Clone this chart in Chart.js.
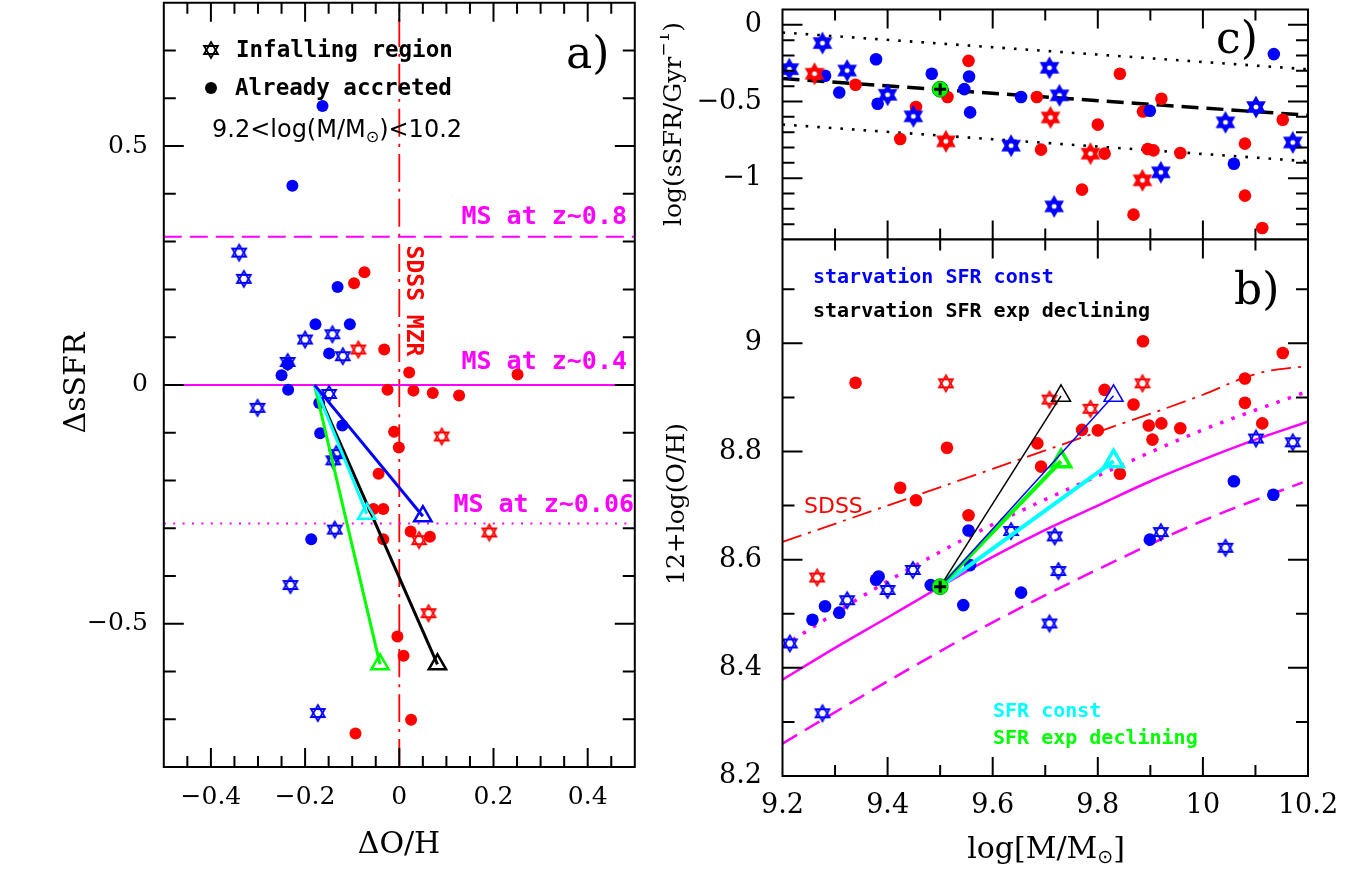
<!DOCTYPE html>
<html>
<head>
<meta charset="utf-8">
<script src="https://cdn.jsdelivr.net/npm/chart.js@4.4.1/dist/chart.umd.min.js"></script>
<style>
  html, body { margin: 0; padding: 0; background: #fff; }
  #wrap { position: relative; width: 1370px; height: 876px; }
  canvas { position: absolute; }
</style>
</head>
<body>
<div id="wrap">
  <canvas id="pa" width="660" height="876" style="left:0;top:0"></canvas>
  <canvas id="pc" width="700" height="240" style="left:660px;top:0"></canvas>
  <canvas id="pb" width="700" height="646" style="left:660px;top:230px"></canvas>
</div>
<script>
// ---- tick labels ----
const XA_TICKS = [-0.4, -0.2, 0, 0.2, 0.4];
const YA_TICKS = [-0.5, 0, 0.5];
const XB_TICKS = [9.2, 9.4, 9.6, 9.8, 10, 10.2];
const YB_TICKS = [8.2, 8.4, 8.6, 8.8, 9];
const YC_TICKS = [-1, -0.5, 0];

// ---- panel a: dsSFR vs dO/H ----
const aStarBlue = [[-0.340,0.277],[-0.330,0.222],[-0.142,0.106],[-0.200,0.095],[-0.120,0.060],[-0.237,0.048],[-0.149,-0.019],[-0.301,-0.048],[-0.134,-0.145],[-0.140,-0.158],[-0.137,-0.303],[-0.231,-0.419],[-0.173,-0.687]];
const aStarRed = [[-0.087,0.074],[0.090,-0.108],[0.042,-0.325],[0.191,-0.309],[0.062,-0.478]];
const aDotBlue = [[-0.163,0.584],[-0.227,0.417],[-0.131,0.205],[-0.178,0.127],[-0.105,0.127],[-0.149,0.066],[-0.237,0.043],[-0.250,0.020],[-0.236,-0.010],[-0.170,-0.038],[-0.168,-0.101],[-0.121,-0.085],[-0.187,-0.323]];
const aDotRed = [[-0.074,0.236],[-0.096,0.213],[-0.032,0.074],[0.021,0.026],[0.251,0.022],[-0.025,-0.010],[0.030,-0.012],[0.071,-0.017],[0.127,-0.022],[-0.011,-0.098],[-0.001,-0.131],[-0.044,-0.186],[-0.055,-0.260],[-0.034,-0.260],[-0.034,-0.323],[0.024,-0.307],[0.065,-0.318],[-0.004,-0.527],[0.009,-0.567],[0.025,-0.701],[-0.093,-0.730]];
const aMsZ08 = 0.31, aMsZ04 = 0, aMsZ006 = -0.29, aMzrX = 0;
const aTrackStart = [-0.18, 0];
const aTrackBlue = [0.05, -0.275];
const aTrackCyan = [-0.069, -0.27];
const aTrackGreen = [-0.041, -0.585];
const aTrackBlack = [0.081, -0.585];

// ---- panel c: log sSFR vs mass ----
const cStarBlue = [[9.213,-0.289],[9.276,-0.119],[9.323,-0.298],[9.400,-0.456],[9.449,-0.597],[9.708,-0.280],[9.727,-0.460],[9.635,-0.788],[9.717,-1.184],[9.920,-0.962],[10.043,-0.636],[10.101,-0.536],[10.171,-0.767]];
const cStarRed = [[9.261,-0.319],[9.511,-0.760],[9.710,-0.604],[9.786,-0.840],[9.885,-1.014]];
const cDotBlue = [[9.281,-0.332],[9.308,-0.441],[9.378,-0.224],[9.381,-0.515],[9.484,-0.319],[9.546,-0.419],[9.555,-0.337],[9.557,-0.571],[9.654,-0.471],[9.899,-0.560],[10.059,-0.906],[10.135,-0.191]];
const cDotRed = [[9.339,-0.391],[9.424,-0.745],[9.454,-0.536],[9.514,-0.471],[9.554,-0.235],[9.684,-0.471],[9.692,-0.814],[9.770,-1.075],[9.800,-0.651],[9.813,-0.840],[9.842,-0.319],[9.868,-1.238],[9.886,-0.565],[9.895,-0.810],[9.906,-0.819],[9.921,-0.482],[9.957,-0.836],[10.080,-0.775],[10.080,-1.114],[10.113,-1.325],[10.152,-0.619]];
const cFitX = [9.2, 10.2];
const cFitY = [-0.35, -0.59];
const cUpperY = [-0.05, -0.29];
const cLowerY = [-0.65, -0.89];
const cRefPoint = [9.5, -0.42];

// ---- panel b: 12+log(O/H) vs mass ----
const bStarBlue = [[9.214,8.445],[9.276,8.316],[9.323,8.525],[9.400,8.544],[9.448,8.581],[9.635,8.653],[9.708,8.482],[9.718,8.643],[9.725,8.579],[9.920,8.651],[10.043,8.622],[10.101,8.824],[10.171,8.817]];
const bStarRed = [[9.266,8.567],[9.511,8.926],[9.708,8.896],[9.786,8.879],[9.885,8.926]];
const bDotBlue = [[9.257,8.489],[9.281,8.514],[9.308,8.502],[9.378,8.563],[9.383,8.569],[9.482,8.553],[9.544,8.516],[9.554,8.654],[9.557,8.590],[9.654,8.539],[9.899,8.637],[10.059,8.745],[10.134,8.720]];
const bDotRed = [[9.339,8.927],[9.424,8.733],[9.454,8.710],[9.513,8.807],[9.554,8.682],[9.685,8.815],[9.692,8.772],[9.770,8.840],[9.800,8.839],[9.813,8.914],[9.842,8.759],[9.868,8.887],[9.886,9.004],[9.897,8.848],[9.904,8.822],[9.921,8.852],[9.957,8.843],[10.080,8.935],[10.080,8.890],[10.113,8.852],[10.152,8.982]];
const bSdssX = [9.2, 9.4, 9.6, 9.8, 10.0, 10.08, 10.12, 10.2];
const bSdssY = [8.633, 8.700, 8.768, 8.836, 8.905, 8.937, 8.948, 8.958];
const bDotLineX = [9.2, 9.4, 9.6, 9.8, 10.0, 10.19];
const bDotLineY = [8.44, 8.56, 8.665, 8.755, 8.84, 8.908];
const bSolidX = [9.2, 9.3, 9.4, 9.5, 9.6, 9.7, 9.8, 9.9, 10.0, 10.1, 10.2];
const bSolidY = [8.378, 8.437, 8.493, 8.55, 8.605, 8.655, 8.70, 8.745, 8.785, 8.822, 8.855];
const bDashX = [9.2, 9.4, 9.6, 9.8, 10.0, 10.19];
const bDashY = [8.26, 8.375, 8.484, 8.582, 8.672, 8.743];
const bRefPoint = [9.5, 8.55];
const bTrackBlue = [9.83, 8.903];
const bTrackBlack = [9.73, 8.903];
const bTrackGreen = [9.73, 8.782];
const bTrackCyan = [9.83, 8.782];

const MAG = '#ff00ff', BLUE = '#0000ff', RED = '#ff0000', GREEN = '#00ff00', CYAN = '#00ffff', BLACK = '#000000';
const SERIF = '"DejaVu Serif", serif';
const MONO = '"DejaVu Sans Mono", monospace';
const SANS = '"DejaVu Sans", sans-serif';

const pts = arr => arr.map(([x, y]) => ({ x, y }));
const line = (xs, ys) => xs.map((x, i) => ({ x, y: ys[i] }));
const fmt = v => (v < 0 ? '\u2212' : '') + String(Math.abs(v));
function steps(lo, hi, st) {
  const out = [];
  for (let i = 0; lo + i * st <= hi + 1e-9; i++) out.push(+(lo + i * st).toFixed(4));
  return out;
}

// hexagram marker drawn once and used as a point style
function hexStar(color, r, lw) {
  const s = Math.ceil(2 * r + lw + 4);
  const c = document.createElement('canvas');
  c.width = s; c.height = s;
  const g = c.getContext('2d');
  g.strokeStyle = color; g.lineWidth = lw;
  [-90, 90].forEach(a0 => {
    g.beginPath();
    for (let k = 0; k < 3; k++) {
      const a = (a0 + 120 * k) * Math.PI / 180;
      const px = s / 2 + r * Math.cos(a), py = s / 2 + r * Math.sin(a);
      if (k) g.lineTo(px, py); else g.moveTo(px, py);
    }
    g.closePath();
    g.stroke();
  });
  return c;
}
const starBlueThin = hexStar(BLUE, 8, 1.8);
const starRedThin = hexStar(RED, 8, 1.8);
const starBlueThick = hexStar(BLUE, 8, 3.4);
const starRedThick = hexStar(RED, 8, 3.4);
const starBlack = hexStar(BLACK, 8, 1.8);

function dots(arr, color, r) {
  return { data: pts(arr), showLine: false, pointStyle: 'circle', pointRadius: r,
    pointBackgroundColor: color, pointBorderColor: color, pointBorderWidth: 0, order: 1 };
}
function stars(arr, img) {
  return { data: pts(arr), showLine: false, pointStyle: img, pointRadius: 8, order: 1 };
}
function curve(xs, ys, color, w, dash) {
  return { data: line(xs, ys), showLine: true, borderColor: color, borderWidth: w, borderDash: dash,
    pointRadius: 0, fill: false, order: 2, cubicInterpolationMode: 'monotone' };
}
function track(start, end, color, w, triR, triW) {
  return { data: pts([start, end]), showLine: true, borderColor: color, borderWidth: w,
    pointRadius: [0, triR], pointStyle: 'triangle', pointBorderColor: color, pointBorderWidth: triW,
    pointBackgroundColor: 'rgba(0,0,0,0)', order: 0 };
}
function refMarker(p) {
  return [
    { data: pts([p]), showLine: false, pointStyle: 'cross', pointRadius: 6, pointBorderColor: BLACK, pointBorderWidth: 3, order: -2 },
    { data: pts([p]), showLine: false, pointStyle: 'circle', pointRadius: 8, pointBackgroundColor: GREEN, pointBorderColor: '#00a000', pointBorderWidth: 1, order: -1 }
  ];
}

// text made of pieces (for sub/superscripts)
function rich(ctx, parts, x, y, rot, align) {
  ctx.save();
  ctx.translate(x, y);
  if (rot) ctx.rotate(rot);
  ctx.textBaseline = 'middle';
  ctx.textAlign = 'left';
  let w = 0;
  parts.forEach(p => { ctx.font = p.f; p.w = ctx.measureText(p.t).width; w += p.w; });
  let cx = align === 'left' ? 0 : -w / 2;
  parts.forEach(p => {
    ctx.font = p.f; ctx.fillStyle = p.c || BLACK;
    ctx.fillText(p.t, cx, p.dy || 0);
    cx += p.w;
  });
  ctx.restore();
}

// box with inward ticks on all four sides
function frame(o) {
  return {
    id: 'frame',
    afterDraw(chart) {
      const ctx = chart.ctx;
      const a = chart.chartArea;
      const sx = chart.scales.x, sy = chart.scales.y;
      ctx.save();
      ctx.setLineDash([]);
      ctx.strokeStyle = BLACK;
      ctx.lineWidth = 2;
      ctx.beginPath();
      for (const [vals, len] of [[o.xMinor, 11], [o.xMajor, 19]]) {
        for (const v of vals) {
          const p = sx.getPixelForValue(v);
          if (!(p >= a.left - 0.5 && p <= a.right + 0.5)) continue;
          ctx.moveTo(p, a.bottom); ctx.lineTo(p, a.bottom - len);
          ctx.moveTo(p, a.top); ctx.lineTo(p, a.top + len);
        }
      }
      for (const [vals, len] of [[o.yMinor, 12], [o.yMajor, 20]]) {
        for (const v of vals) {
          const p = sy.getPixelForValue(v);
          if (!(p >= a.top - 0.5 && p <= a.bottom + 0.5)) continue;
          ctx.moveTo(a.left, p); ctx.lineTo(a.left + len, p);
          ctx.moveTo(a.right, p); ctx.lineTo(a.right - len, p);
        }
      }
      ctx.rect(a.left, a.top, a.right - a.left, a.bottom - a.top);
      ctx.stroke();
      ctx.restore();
    }
  };
}

function axis(min, max, ticks, size, fit, pad, fontSize, show) {
  return {
    type: 'linear', min, max,
    grid: { display: false, drawTicks: false },
    border: { display: false },
    afterBuildTicks: s => { s.ticks = ticks.map(v => ({ value: v })); },
    afterFit: s => {
      if (fit === 'w') s.width = size; else s.height = size;
      s.paddingTop = 0; s.paddingBottom = 0; s.paddingLeft = 0; s.paddingRight = 0;
    },
    ticks: { display: show, padding: pad, color: BLACK, autoSkip: false, maxRotation: 0,
      font: { family: SERIF, size: fontSize }, callback: v => fmt(v) }
  };
}
function options(pad, x, y) {
  return {
    responsive: false, animation: false, events: [],
    layout: { padding: pad, autoPadding: false },
    plugins: { legend: { display: false }, tooltip: { enabled: false } },
    scales: { x, y }
  };
}

// ---------- panel a ----------
new Chart(document.getElementById('pa'), {
  type: 'scatter',
  data: {
    datasets: [
      track(aTrackStart, aTrackBlue, BLUE, 3, 10, 2.5),
      track(aTrackStart, aTrackCyan, CYAN, 3, 10, 2.5),
      track(aTrackStart, aTrackGreen, GREEN, 3, 10, 2.5),
      track(aTrackStart, aTrackBlack, BLACK, 3, 10, 2.5),
      stars(aStarBlue, starBlueThin),
      stars(aStarRed, starRedThin),
      dots(aDotBlue, BLUE, 6),
      dots(aDotRed, RED, 6),
      curve([-0.5, 0.5], [aMsZ04, aMsZ04], MAG, 2, []),
      curve([-0.5, 0.5], [aMsZ08, aMsZ08], MAG, 2, [18, 8]),
      curve([-0.5, 0.5], [aMsZ006, aMsZ006], MAG, 2, [2, 7.4]),
      curve([aMzrX, aMzrX], [-0.8, 0.8], RED, 1.8, [28, 7, 3, 7])
    ]
  },
  options: options({ left: 0, top: 2.8, right: 25.2, bottom: 0 },
    axis(-0.5, 0.5, XA_TICKS, 109, 'h', 15.5, 25, true),
    axis(-0.8, 0.8, YA_TICKS, 163.8, 'w', 16, 25, true)),
  plugins: [
    frame({ xMajor: XA_TICKS, xMinor: steps(-0.5, 0.5, 0.05), yMajor: YA_TICKS, yMinor: steps(-0.8, 0.8, 0.1) }),
    {
      id: 'notesA',
      afterDraw(chart) {
        const { ctx, scales: { x, y } } = chart;
        ctx.save();
        ctx.drawImage(starBlack, 211 - starBlack.width / 2, 50 - starBlack.height / 2);
        ctx.fillStyle = BLACK;
        ctx.beginPath(); ctx.arc(211, 88, 6, 0, 2 * Math.PI); ctx.fill();
        ctx.textBaseline = 'middle';
        ctx.font = 'bold 22.5px ' + MONO;
        ctx.fillText('Infalling region', 236, 51);
        ctx.fillText('Already accreted', 235, 89);
        rich(ctx, [{ t: '9.2<log(M/M', f: '24px ' + SANS }, { t: '\u2299', f: '16px ' + SANS, dy: 7 },
          { t: ')<10.2', f: '24px ' + SANS }], 212, 131, 0, 'left');
        ctx.font = '44px ' + SERIF;
        ctx.fillText('a)', 566, 57);
        ctx.fillStyle = MAG;
        ctx.textAlign = 'right';
        ctx.font = 'bold 25px ' + MONO;
        ctx.fillText('MS at z~0.8', 627, y.getPixelForValue(aMsZ08) - 19);
        ctx.fillText('MS at z~0.4', 627, y.getPixelForValue(aMsZ04) - 22);
        ctx.fillText('MS at z~0.06', 634, y.getPixelForValue(aMsZ006) - 18);
        ctx.save();
        ctx.translate(x.getPixelForValue(aMzrX) + 14, 301);
        ctx.rotate(Math.PI / 2);
        ctx.textAlign = 'center';
        ctx.fillStyle = RED;
        ctx.font = 'bold 23px ' + MONO;
        ctx.fillText('SDSS MZR', 0, 0);
        ctx.restore();
        rich(ctx, [{ t: '\u0394sSFR', f: '30px ' + SERIF }], 77, 383, -Math.PI / 2, 'center');
        rich(ctx, [{ t: '\u0394O/H', f: '30px ' + SERIF }], 399, 845, 0, 'center');
        ctx.restore();
      }
    }
  ]
});

// ---------- panel c ----------
new Chart(document.getElementById('pc'), {
  type: 'scatter',
  data: {
    datasets: [
      ...refMarker(cRefPoint),
      stars(cStarBlue, starBlueThick),
      stars(cStarRed, starRedThick),
      dots(cDotBlue, BLUE, 6.3),
      dots(cDotRed, RED, 6.3),
      curve(cFitX, cFitY, BLACK, 3.5, [17, 8]),
      curve(cFitX, cUpperY, BLACK, 2.6, [2.6, 9]),
      curve(cFitX, cLowerY, BLACK, 2.6, [2.6, 9])
    ]
  },
  options: options({ left: 0, top: 9.5, right: 52, bottom: 0.5 },
    axis(9.2, 10.2, XB_TICKS, 0, 'h', 0, 27, false),
    axis(-1.4, 0.1, YC_TICKS, 122.5, 'w', 20.5, 27, true)),
  plugins: [
    frame({ xMajor: XB_TICKS, xMinor: steps(9.2, 10.2, 0.1), yMajor: YC_TICKS, yMinor: steps(-1.4, 0.1, 0.1) }),
    {
      id: 'notesC',
      afterDraw(chart) {
        const { ctx } = chart;
        ctx.save();
        ctx.textBaseline = 'middle';
        ctx.fillStyle = BLACK;
        ctx.font = '44px ' + SERIF;
        ctx.fillText('c)', 556, 42);
        rich(ctx, [{ t: 'log(sSFR/Gyr', f: '25px ' + SERIF }, { t: '\u22121', f: '17px ' + SERIF, dy: -9 },
          { t: ')', f: '25px ' + SERIF }], 14, 124, -Math.PI / 2, 'center');
        ctx.restore();
      }
    }
  ]
});

// ---------- panel b ----------
new Chart(document.getElementById('pb'), {
  type: 'scatter',
  data: {
    datasets: [
      ...refMarker(bRefPoint),
      track(bRefPoint, bTrackBlack, BLACK, 1.5, 11, 1.5),
      track(bRefPoint, bTrackBlue, BLUE, 1.5, 11, 1.5),
      track(bRefPoint, bTrackGreen, GREEN, 4, 11, 3.5),
      track(bRefPoint, bTrackCyan, CYAN, 4, 11, 3.5),
      stars(bStarBlue, starBlueThin),
      stars(bStarRed, starRedThin),
      dots(bDotBlue, BLUE, 6.3),
      dots(bDotRed, RED, 6.3),
      curve(bSdssX, bSdssY, RED, 1.8, [20, 7, 3, 7]),
      curve(bDotLineX, bDotLineY, MAG, 3.5, [3.5, 8.5]),
      curve(bSolidX, bSolidY, MAG, 2.5, []),
      curve(bDashX, bDashY, MAG, 2.5, [17, 9])
    ]
  },
  options: options({ left: 0, top: 9.5, right: 52, bottom: 0 },
    axis(9.2, 10.2, XB_TICKS, 100, 'h', 13.8, 27, true),
    axis(8.2, 9.192, YB_TICKS, 122.5, 'w', 20.5, 27, true)),
  plugins: [
    frame({ xMajor: XB_TICKS, xMinor: steps(9.2, 10.2, 0.1), yMajor: YB_TICKS, yMinor: steps(8.2, 9.2, 0.1) }),
    {
      id: 'notesB',
      afterDraw(chart) {
        const { ctx } = chart;
        ctx.save();
        ctx.textBaseline = 'middle';
        ctx.font = 'bold 20px ' + MONO;
        ctx.fillStyle = BLUE; ctx.fillText('starvation SFR const', 153, 48);
        ctx.fillStyle = BLACK; ctx.fillText('starvation SFR exp declining', 153, 82);
        ctx.fillStyle = CYAN; ctx.fillText('SFR const', 333, 482);
        ctx.fillStyle = GREEN; ctx.fillText('SFR exp declining', 333, 509);
        ctx.fillStyle = RED; ctx.font = '22px ' + SANS; ctx.fillText('SDSS', 144, 277);
        ctx.fillStyle = BLACK; ctx.font = '44px ' + SERIF; ctx.fillText('b)', 574, 63);
        rich(ctx, [{ t: '12+log(O/H)', f: '25px ' + SERIF }], 17, 274, -Math.PI / 2, 'center');
        rich(ctx, [{ t: 'log[M/M', f: '30px ' + SERIF }, { t: '\u2299', f: '19px ' + SANS, dy: 8 },
          { t: ']', f: '30px ' + SERIF }], 386, 620, 0, 'center');
        ctx.restore();
      }
    }
  ]
});
</script>
</body>
</html>
